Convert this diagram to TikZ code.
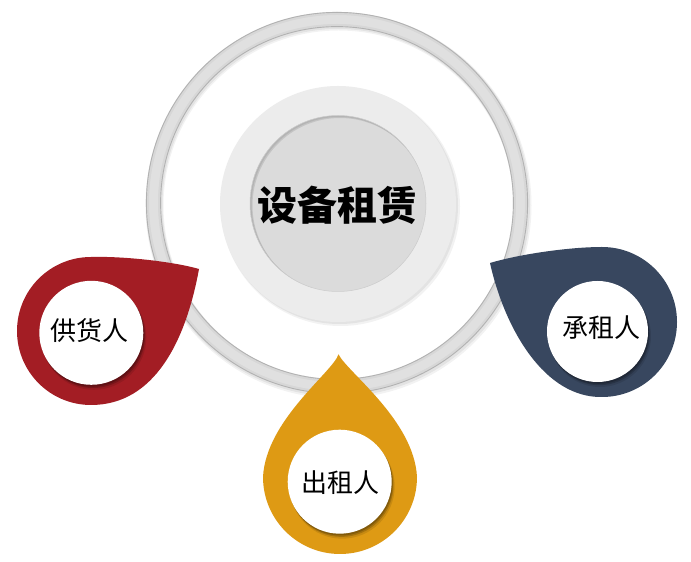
\documentclass[tikz,border=0pt]{standalone}
\usepackage{fontspec}
\newfontfamily\cjk{Noto Sans CJK SC}
\definecolor{dropred}{RGB}{163,29,36}
\definecolor{dropblue}{RGB}{56,71,95}
\definecolor{droporange}{RGB}{222,154,20}
\definecolor{ringfill}{RGB}{224,224,224}
\definecolor{ringedge}{RGB}{178,178,178}
\definecolor{discoutfill}{RGB}{236,236,236}
\definecolor{discinfill}{RGB}{219,219,219}
\tikzset{
  labelcircle/.style={circle, fill=white, inner sep=0pt, minimum size=#1},
  labeltext/.style={font=\cjk\fontsize{26}{30}\selectfont, inner sep=0pt}
}
\begin{document}
\begin{tikzpicture}[x=1pt,y=1pt]
\useasboundingbox (0,0) rectangle (691,562);
\fill[white] (0,0) rectangle (691,562);
% ---------- outer ring ----------
\fill[black, opacity=0.05, even odd rule] (338.5,356.5) circle[radius=193] (338.5,356.5) circle[radius=175];
\fill[black, opacity=0.06, even odd rule] (338,357.5) circle[radius=192] (338,357.5) circle[radius=175.5];
\path[fill=ringfill, even odd rule]
  (337,359) circle[radius=191] (337,359) circle[radius=176];
\draw[ringedge, line width=0.9pt] (337,359) circle[radius=190.6];
\draw[ringedge, line width=0.9pt] (337,359) circle[radius=176.4];
\draw[black, opacity=0.04, line width=2pt] (337,359) circle[radius=189];
\draw[black, opacity=0.04, line width=2pt] (337,359) circle[radius=178];
% ---------- central discs ----------
\fill[black, opacity=0.05] (340.5,355.5) circle[radius=119.5];
\fill[black, opacity=0.06] (339.5,356.5) circle[radius=118.5];
\path[fill=discoutfill] (338,358) circle[radius=118];
\path[fill=discinfill] (338,358.5) circle[radius=88];
\begin{scope}
  \clip (338,358.5) circle[radius=88];
  \draw[black, opacity=0.10, line width=5pt] (340,356.5) circle[radius=90];
  \draw[black, opacity=0.08, line width=2pt] (339,357.5) circle[radius=88.5];
\end{scope}
\draw[gray!40, line width=0.5pt] (338,358.5) circle[radius=88];
\node[font=\cjk\bfseries\fontsize{40}{44}\selectfont] (title) at (337,356.5) {设备租赁};
% ---------- drops ----------
% red (supplier)
\fill[dropred] (199,293) .. controls (175,300) and (125,306) .. (91,305)
  arc[start angle=90, end angle=270, radius=74]
  .. controls (155,157) and (186,222) .. cycle;
% orange (lessor)
\fill[droporange] (338.5,207.7) .. controls (333,190) and (266,142) .. (263,85)
  arc[start angle=180, end angle=360, radius=77]
  .. controls (414,142) and (347,190) .. cycle;
% blue (lessee)
\fill[dropblue] (490,299) .. controls (520,308) and (570,315) .. (602,315)
  arc[start angle=90, end angle=-90, radius=75]
  .. controls (545,164) and (505,232) .. cycle;
% ---------- label circles ----------
\foreach \cx/\cy/\r in {91.3/229.2/52, 339.7/80.3/52, 597.5/230.5/50.5}{
  \fill[black, opacity=0.10] (\cx+2.5,\cy-4.5) circle[radius=\r+0.5];
  \fill[black, opacity=0.18] (\cx+1.8,\cy-3.2) circle[radius=\r];
  \fill[black, opacity=0.20] (\cx+1,\cy-1.8) circle[radius=\r];
}
\node[labelcircle=104pt] (supplierdisc) at (91.3,229.2) {};
\node[labelcircle=104pt] (lessordisc) at (339.7,80.3) {};
\node[labelcircle=101pt] (lesseedisc) at (597.5,230.5) {};
\node[labeltext] (supplier) at (89,231) {供货人};
\node[labeltext] (lessor) at (340.8,79.5) {出租人};
\node[labeltext] (lessee) at (601.7,234.5) {承租人};
\end{tikzpicture}
\end{document}
